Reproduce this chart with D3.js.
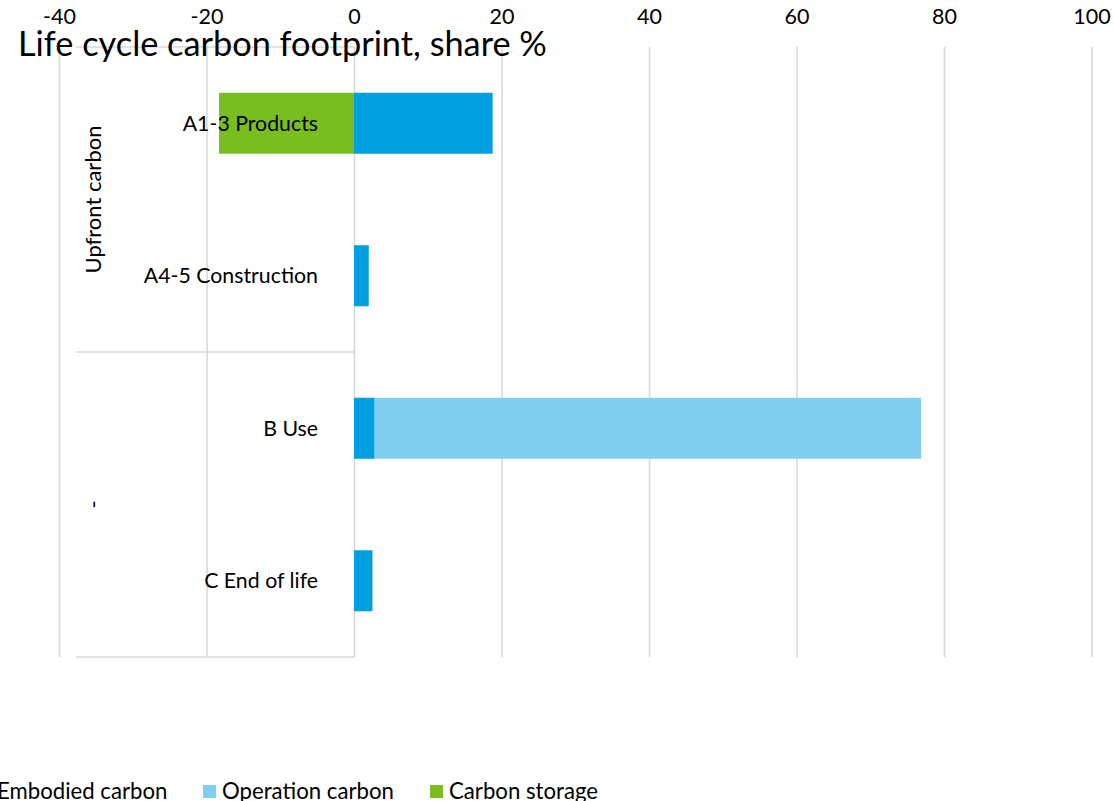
<!DOCTYPE html>
<html>
<head>
<meta charset="utf-8">
<script src="https://cdn.jsdelivr.net/npm/d3@7"></script>
<style>
  html, body { margin: 0; padding: 0; background: #fff; }
  svg { display: block; }
  text { font-family: Lato, "Open Sans", sans-serif; fill: #000; }
</style>
</head>
<body>
<svg id="chart" width="1114" height="801"></svg>
<script>
// Life-cycle stages (bottom-level categories) and their grouping
const stages = ["A1-3 Products", "A4-5 Construction", "B Use", "C End of life"];
const groups = ["Upfront carbon", "-"];

// Share of life-cycle carbon footprint, %
const embodied = [18.8, 2.0, 2.8, 2.5];
const operation = [0, 0, 74.1, 0];
const storage = [-18.3, 0, 0, 0];

const seriesNames = ["Embodied carbon", "Operation carbon", "Carbon storage"];
const seriesColors = ["#009FDF", "#81CFEE", "#78BE20"];
const xTicks = [-40, -20, 0, 20, 40, 60, 80, 100];

const svg = d3.select("#chart");
const gridColor = "#D9D9D9";
const plotTop = 47, plotBottom = 657;

const x = d3.scaleLinear().domain([-40, 100]).range([59, 1091.5]);
const y = d3.scaleBand().domain(stages).range([plotTop, plotBottom])
  .paddingInner(0.6).paddingOuter(0.3);

// vertical gridlines
const grid = svg.append("g")
  .attr("transform", `translate(0,${plotBottom})`)
  .call(d3.axisBottom(x).tickValues(xTicks).tickSize(-(plotBottom - plotTop)).tickFormat(""));
grid.select(".domain").remove();
grid.selectAll(".tick line").attr("stroke", gridColor).attr("stroke-width", 1.6);

// multi-level category axis: group boundaries
const groupEdges = [plotTop, y.step() * 2 + plotTop, plotBottom];
svg.append("g").selectAll("line").data(groupEdges).join("line")
  .attr("x1", 76).attr("x2", x(0))
  .attr("y1", d => d).attr("y2", d => d)
  .attr("stroke", gridColor).attr("stroke-width", 1.6);

// stacked bars: positives stack right of zero, negatives left
const rows = stages.map((s, i) => ({
  stage: s,
  parts: [
    { key: 0, x0: 0, x1: embodied[i] },
    { key: 1, x0: embodied[i], x1: embodied[i] + operation[i] },
    { key: 2, x0: storage[i], x1: 0 }
  ].filter(p => p.x1 !== p.x0)
}));

svg.append("g").selectAll("g").data(rows).join("g")
  .selectAll("rect").data(d => d.parts.map(p => ({ ...p, stage: d.stage }))).join("rect")
  .attr("x", d => x(d.x0))
  .attr("width", d => x(d.x1) - x(d.x0))
  .attr("y", d => y(d.stage))
  .attr("height", y.bandwidth())
  .attr("fill", d => seriesColors[d.key]);

// category labels
svg.append("g").selectAll("text").data(stages).join("text")
  .attr("x", 318)
  .attr("y", d => y(d) + y.bandwidth() / 2 + 7.5)
  .attr("text-anchor", "end")
  .attr("font-size", 21.3)
  .text(d => d);

// group labels (rotated)
svg.append("g").selectAll("text").data(groups).join("text")
  .attr("transform", (g, i) => {
    const cy = (groupEdges[i] + groupEdges[i + 1]) / 2;
    return `translate(101,${cy}) rotate(-90)`;
  })
  .attr("text-anchor", "middle")
  .attr("font-size", 22)
  .text(d => d);

// top value axis labels
const valueAxis = svg.append("g")
  .attr("transform", "translate(0,24)")
  .call(d3.axisTop(x).tickValues(xTicks).tickSize(0).tickPadding(0).tickFormat(d => String(d)));
valueAxis.select(".domain").remove();
valueAxis.selectAll("text")
  .attr("font-size", 21.5)
  .attr("font-family", "Lato, sans-serif")
  .attr("fill", "#000")
  .attr("dy", 0);

// title
svg.append("text")
  .attr("x", 18).attr("y", 56)
  .attr("font-size", 34.3)
  .text("Life cycle carbon footprint, share %");

// legend along the bottom
const legendX = [-22, 203, 430];
const legend = svg.append("g").selectAll("g").data(seriesNames).join("g")
  .attr("transform", (d, i) => `translate(${legendX[i]},785)`);
legend.append("rect").attr("width", 13).attr("height", 13)
  .attr("fill", (d, i) => seriesColors[i]);
legend.append("text").attr("x", 19).attr("y", 14)
  .attr("font-size", 22.2)
  .text(d => d);
</script>
</body>
</html>
